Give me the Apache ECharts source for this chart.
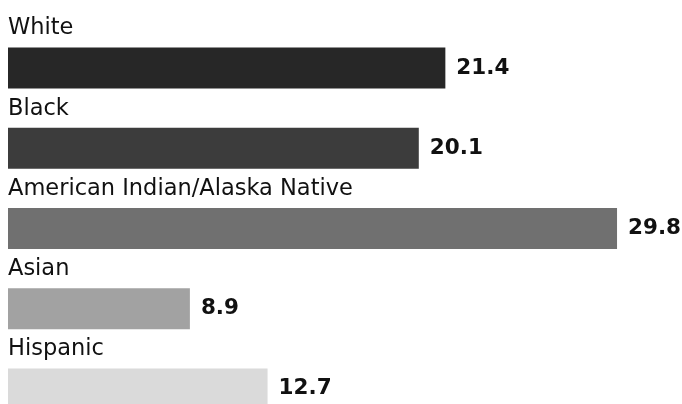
<!DOCTYPE html>
<html>
<head>
<meta charset="utf-8">
<script src="https://cdn.jsdelivr.net/npm/echarts@6/dist/echarts.min.js"></script>
<style>
  html, body { margin: 0; padding: 0; background: #fff; }
  #chart { width: 682px; height: 404px; }
</style>
</head>
<body>
<div id="chart"></div>
<script>
// groups, top to bottom
var groups = ['White', 'Black', 'American Indian/Alaska Native', 'Asian', 'Hispanic'];
// value per group
var values = [21.4, 20.1, 29.8, 8.9, 12.7];
// fill per bar (halftone greys)
var barColors = ['#272727', '#3c3c3c', '#707070', '#a2a2a2', '#dadada'];

var myChart = echarts.init(document.getElementById('chart'));

var option = {
    backgroundColor: '#fff',
    animation: false,
    grid: {
        left: 8,
        right: 20,
        top: 28,
        height: 401,
        outerBoundsMode: 'none'
    },
    xAxis: {
        type: 'value',
        min: 0,
        max: 32,
        show: false
    },
    yAxis: {
        type: 'category',
        data: groups,
        inverse: true,
        axisLine: { show: false },
        axisTick: { show: false },
        splitLine: { show: false },
        axisLabel: {
            inside: true,
            margin: 0,
            align: 'left',
            verticalAlign: 'bottom',
            padding: [0, 0, 28, 0],
            color: '#111',
            fontFamily: 'DejaVu Sans',
            fontSize: 22.5
        }
    },
    series: [{
        type: 'bar',
        barWidth: 41,
        data: values.map(function (v, i) {
            return { value: v, itemStyle: { color: barColors[i] } };
        }),
        label: {
            show: true,
            position: 'right',
            distance: 11,
            color: '#111',
            fontFamily: 'DejaVu Sans',
            fontWeight: 'bold',
            fontSize: 21.5
        }
    }]
};
myChart.setOption(option);
</script>
</body>
</html>
